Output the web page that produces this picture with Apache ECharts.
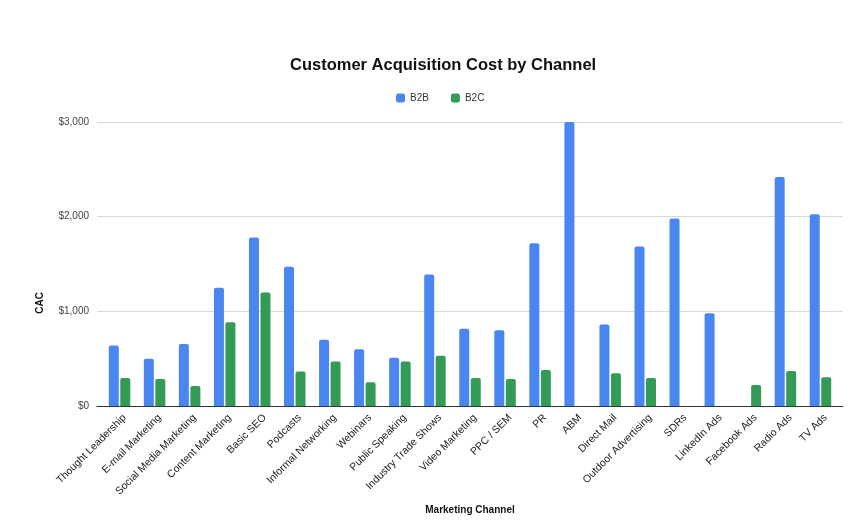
<!DOCTYPE html>
<html lang="en">
<head>
    <meta charset="UTF-8">
    <title>Customer Acquisition Cost by Channel</title>
    <script src="https://cdn.jsdelivr.net/npm/echarts@6/dist/echarts.min.js"></script>
</head>
<body style="margin:0">
<div id="main" style="width: 859px;height: 529px"></div>
<script>
    // channels along the x axis
    var channels = ['Thought Leadership', 'E-mail Marketing', 'Social Media Marketing', 'Content Marketing',
        'Basic SEO', 'Podcasts', 'Informal Networking', 'Webinars', 'Public Speaking', 'Industry Trade Shows',
        'Video Marketing', 'PPC / SEM', 'PR', 'ABM', 'Direct Mail', 'Outdoor Advertising', 'SDRs',
        'LinkedIn Ads', 'Facebook Ads', 'Radio Ads', 'TV Ads'];
    // CAC in dollars, null = no bar
    var b2b = [640, 500, 655, 1250, 1780, 1470, 700, 600, 510, 1390,
        815, 800, 1720, 3000, 860, 1685, 1980, 980, null, 2420, 2025];
    var b2c = [295, 285, 210, 885, 1200, 365, 470, 250, 470, 530,
        295, 285, 380, null, 345, 295, null, null, 222, 370, 305];
    var yTicks = [0, 1000, 2000, 3000];

    var myChart = echarts.init(document.getElementById('main'));

    var font = 'Arial, "Liberation Sans", sans-serif';
    var yMin = yTicks[0], yMax = yTicks[yTicks.length - 1];

    option = {
        textStyle: {fontFamily: font},
        title: {
            text: 'Customer Acquisition Cost by Channel',
            left: 285,
            top: 52,
            textStyle: {fontSize: 16.5, fontWeight: 'bold', color: '#111', fontFamily: font}
        },
        legend: {
            data: ['B2B', 'B2C'],
            top: 88,
            left: 391,
            itemWidth: 9,
            itemHeight: 9,
            itemGap: 22,
            icon: 'roundRect',
            textStyle: {fontSize: 10, color: '#333', fontFamily: font}
        },
        // grid 0: gridlines + baseline, grid 1: bars, grid 2: category labels (nudged right)
        grid: [
            {left: 97, right: 16, top: 122, bottom: 123},
            {left: 102, right: 21, top: 122, bottom: 123},
            {left: 107, right: 16, top: 122, bottom: 123}
        ],
        graphic: [{
            type: 'text',
            left: 35,
            top: 292,
            rotation: Math.PI / 2,
            style: {text: 'CAC', fill: '#111', font: 'bold 10px Arial'}
        }],
        xAxis: [
            {
                gridIndex: 0,
                type: 'value',
                min: 0,
                max: 1,
                axisLine: {show: true, onZero: false, lineStyle: {color: '#333', width: 1}},
                axisTick: {show: false},
                axisLabel: {show: false},
                splitLine: {show: false}
            },
            {
                gridIndex: 1,
                type: 'category',
                data: channels,
                axisLine: {show: false},
                axisTick: {show: false},
                axisLabel: {show: false}
            },
            {
                gridIndex: 2,
                type: 'category',
                data: channels,
                name: 'Marketing Channel',
                nameLocation: 'middle',
                nameGap: 99,
                nameTextStyle: {fontSize: 10, fontWeight: 'bold', color: '#111', fontFamily: font, padding: [0, 10, 0, 0]},
                axisLine: {show: false},
                axisTick: {show: false},
                axisLabel: {
                    interval: 0,
                    rotate: 45,
                    fontSize: 10.5,
                    color: '#222',
                    margin: 10,
                    fontFamily: font
                }
            }
        ],
        yAxis: [
            {
                gridIndex: 0,
                type: 'value',
                min: yMin,
                max: yMax,
                interval: 1000,
                axisLine: {show: false},
                axisTick: {show: false},
                splitLine: {lineStyle: {color: '#d9d9d9'}},
                axisLabel: {
                    fontSize: 10,
                    color: '#444',
                    margin: 8,
                    formatter: function (v) {
                        return '$' + v.toLocaleString('en-US');
                    }
                }
            },
            {
                gridIndex: 1,
                type: 'value',
                min: yMin,
                max: yMax,
                interval: 1000,
                show: false
            },
            {
                gridIndex: 2,
                type: 'value',
                min: yMin,
                max: yMax,
                interval: 1000,
                show: false
            }
        ],
        series: [
            {
                name: 'B2B',
                type: 'bar',
                xAxisIndex: 1,
                yAxisIndex: 1,
                data: b2b,
                barWidth: 10,
                barGap: '15%',
                itemStyle: {color: '#4a86ef', borderRadius: [2, 2, 0, 0]}
            },
            {
                name: 'B2C',
                type: 'bar',
                xAxisIndex: 1,
                yAxisIndex: 1,
                data: b2c,
                barWidth: 10,
                itemStyle: {color: '#339b55', borderRadius: [2, 2, 0, 0]}
            }
        ]
    };

    myChart.setOption(option);
</script>
</body>
</html>
